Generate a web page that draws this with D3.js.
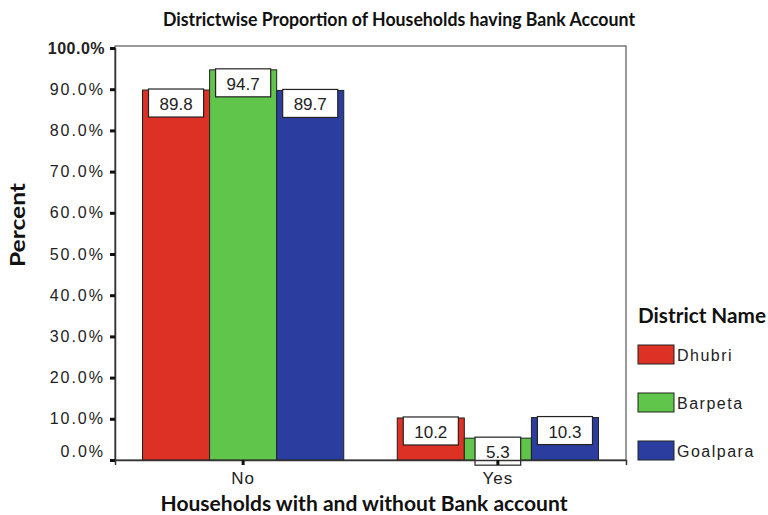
<!DOCTYPE html>
<head>
<meta charset="utf-8">
<title>Districtwise Proportion of Households having Bank Account</title>
<script src="https://cdn.jsdelivr.net/npm/d3@7"></script>
<style>
	body { margin: 0; background: #fff; }
	.tick text { font: 16px "Liberation Sans", Arial, sans-serif; fill: #222; letter-spacing: 2px; }
	.bold { font-family: Lato, "Open Sans", sans-serif; font-weight: bold; fill: #111; }
</style>
</head>
<body>
<script>
var width = 768, height = 515;
var margin = {top: 47, left: 115, right: 142, bottom: 55};

// data
var answers = ["No", "Yes"];
var districts = ["Dhubri", "Barpeta", "Goalpara"];
var dhubri = [89.8, 10.2];
var barpeta = [94.7, 5.3];
var goalpara = [89.7, 10.3];
var yTicks = [0, 10, 20, 30, 40, 50, 60, 70, 80, 90, 100];
var colors = ["#dc3124", "#5fc54b", "#2b3e9f"];

var series = [dhubri, barpeta, goalpara];
var rows = [];
answers.forEach(function(a, i) {
	districts.forEach(function(d, j) {
		rows.push({answer: a, district: d, value: series[j][i]});
	});
});

var svg = d3.select("body").append("svg")
	.attr("width", width)
	.attr("height", height);

var x0 = d3.scaleBand().domain(answers)
	.range([margin.left, width - margin.right])
	.paddingInner(0.21).paddingOuter(0.108);
var x1 = d3.scaleBand().domain(districts).range([0, x0.bandwidth()]);
var y = d3.scaleLinear().domain([0, 100]).range([height - margin.bottom, margin.top + 1]);
var color = d3.scaleOrdinal().domain(districts).range(colors);

// frame
svg.append("rect")
	.attr("x", margin.left).attr("y", margin.top - 1)
	.attr("width", width - margin.right - margin.left)
	.attr("height", height - margin.bottom - margin.top + 1)
	.style("fill", "none").style("stroke", "#555").style("stroke-width", 1.2);

// bars
var g = svg.selectAll("g.bar").data(rows).enter().append("g").attr("class", "bar");
g.append("rect")
	.attr("x", function(d) { return x0(d.answer) + x1(d.district); })
	.attr("y", function(d) { return y(d.value); })
	.attr("width", x1.bandwidth())
	.attr("height", function(d) { return y(0) - y(d.value); })
	.style("fill", function(d) { return color(d.district); })
	.style("stroke", "#222").style("stroke-width", 1);

// value labels in boxes
g.each(function(d) {
	var cx = x0(d.answer) + x1(d.district) + x1.bandwidth() / 2;
	var top = y(d.value) - 1;
	var box = d3.select(this).append("rect");
	var t = d3.select(this).append("text")
		.attr("x", cx).attr("y", top + 21)
		.attr("text-anchor", "middle")
		.style("font", "17px 'Liberation Sans', Arial, sans-serif")
		.style("fill", "#222")
		.text(d.value.toFixed(1));
	var w = t.node().getComputedTextLength() + 22;
	box.attr("x", cx - w / 2).attr("y", top)
		.attr("width", w).attr("height", 28)
		.style("fill", "#fff").style("stroke", "#222").style("stroke-width", 1.2);
});

// axes
var yAxis = svg.append("g")
	.attr("transform", "translate(" + margin.left + ",0)")
	.call(d3.axisLeft(y).tickValues(yTicks).tickSize(5).tickPadding(5)
		.tickFormat(function(d) { return d.toFixed(1) + "%"; }));
yAxis.select(".domain").style("stroke", "#333").style("stroke-width", 1.5);
yAxis.selectAll(".tick line").style("stroke", "#111").style("stroke-width", 3);
yAxis.selectAll(".tick text").attr("dy", function(d) { return d === 0 ? "-0.2em" : "0.32em"; });
yAxis.selectAll(".tick text").filter(function(d) { return d === 100; })
	.style("font-weight", "bold").style("letter-spacing", "0.5px");

var xAxis = svg.append("g")
	.attr("transform", "translate(0," + y(0) + ")")
	.call(d3.axisBottom(x0).tickSize(5).tickPadding(7));
xAxis.select(".domain").style("stroke", "#333").style("stroke-width", 1.5);
xAxis.selectAll(".tick line").style("stroke", "#111").style("stroke-width", 3);
xAxis.selectAll(".tick text").style("font-size", "17px").style("letter-spacing", "1px");

// titles
svg.append("text").attr("class", "bold")
	.attr("x", 399).attr("y", 26)
	.attr("text-anchor", "middle").style("font-size", "19px")
	.attr("textLength", 472).attr("lengthAdjust", "spacingAndGlyphs")
	.text("Districtwise Proportion of Households having Bank Account");
svg.append("text").attr("class", "bold")
	.attr("x", 364).attr("y", 511)
	.attr("text-anchor", "middle").style("font-size", "20px")
	.attr("textLength", 407).attr("lengthAdjust", "spacingAndGlyphs")
	.text("Households with and without Bank account");
svg.append("text").attr("class", "bold")
	.attr("transform", "translate(25,225) rotate(-90)")
	.attr("text-anchor", "middle").style("font-size", "20px")
	.attr("textLength", 84).attr("lengthAdjust", "spacingAndGlyphs")
	.text("Percent");

// legend
var legend = svg.append("g").attr("transform", "translate(638,0)");
legend.append("text").attr("class", "bold")
	.attr("x", 0).attr("y", 323).style("font-size", "20px")
	.attr("textLength", 128).attr("lengthAdjust", "spacingAndGlyphs")
	.text("District Name");
var items = legend.selectAll("g.item").data(districts).enter().append("g")
	.attr("transform", function(d, i) { return "translate(0," + (345 + i * 48) + ")"; });
items.append("rect")
	.attr("width", 36).attr("height", 19)
	.style("fill", function(d) { return color(d); })
	.style("stroke", "#222").style("stroke-width", 1);
items.append("text")
	.attr("x", 39).attr("y", 16)
	.style("font", "16px 'Liberation Sans', Arial, sans-serif").style("fill", "#222")
	.style("letter-spacing", "1.5px")
	.text(function(d) { return d; });
</script>
</body>
